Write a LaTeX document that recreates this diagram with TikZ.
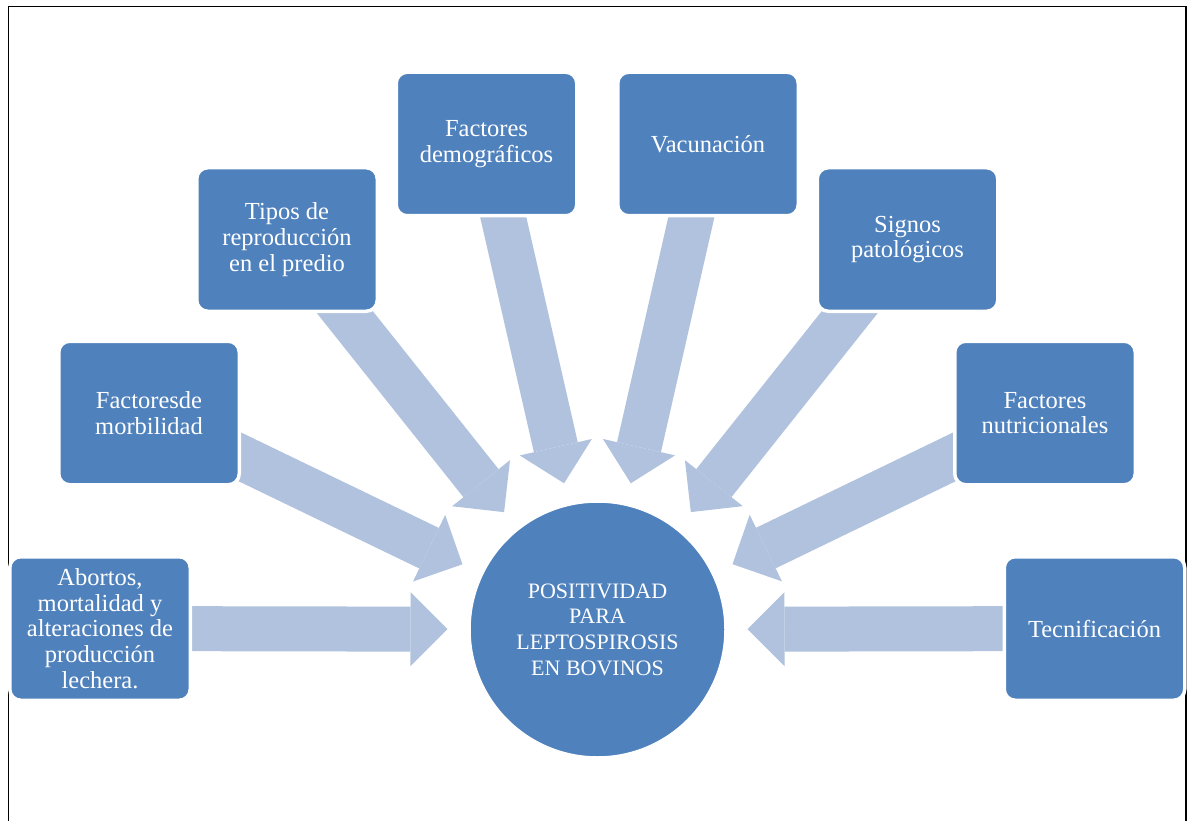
\documentclass[tikz,border=0pt]{standalone}
\usepackage{fontspec}
\setmainfont{Liberation Serif}
\usetikzlibrary{arrows.meta,backgrounds}
\definecolor{boxblue}{RGB}{79,129,189}
\definecolor{arrowblue}{RGB}{176,194,222}

\begin{document}
\begin{tikzpicture}[x=1pt, y=-1pt,
    every node/.style={align=center, text=white, font=\fontsize{24.5}{25.7}\selectfont},
    factor/.style={draw=white, line width=3.5pt, fill=boxblue, rounded corners=11pt, minimum width=180.5pt, minimum height=143.5pt, inner sep=0pt},
    bigarrow/.style={draw=arrowblue, line width=45pt, shorten >=22.5pt, -{Triangle[width=74pt, length=37pt, line width'=0pt]}}]
    \useasboundingbox (0,0) rectangle (1189,821);
    \draw[line width=1.6pt] (8.5,821) -- (8.5,6.5) -- (1186,6.5) -- (1186,821);

    \node[circle, draw=white, line width=1.5pt, fill=boxblue, minimum size=255pt, inner sep=0pt, outer sep=0pt, font=\fontsize{22}{25.7}\selectfont] (pos) at (597.5,629.5) {POSITIVIDAD\\PARA\\LEPTOSPIROSIS\\EN BOVINOS};

    \node[factor] (abortos) at (100,628.5) {Abortos,\\mortalidad y\\alteraciones de\\producción\\lechera.};
    \node[factor] (morbilidad) at (149,413) {Factoresde\\morbilidad};
    \node[factor] (tipos) at (287,239.5) {Tipos de\\reproducción\\en el predio};
    \node[factor] (demograficos) at (486.5,144) {Factores\\demográficos};
    \node[factor] (vacunacion) at (708,144) {Vacunación};
    \node[factor] (signos) at (907.5,239.5) {Signos\\patológicos};
    \node[factor] (nutricionales) at (1045,413) {Factores\\nutricionales};
    \node[factor] (tecnificacion) at (1094.5,628.5) {Tecnificación};

    \begin{scope}[on background layer]
        \draw[bigarrow] (abortos.center) -- (pos);
        \draw[bigarrow] (morbilidad.center) -- (pos);
        \draw[bigarrow] (tipos.center) -- (pos);
        \draw[bigarrow] (demograficos.center) -- (pos);
        \draw[bigarrow] (vacunacion.center) -- (pos);
        \draw[bigarrow] (signos.center) -- (pos);
        \draw[bigarrow] (nutricionales.center) -- (pos);
        \draw[bigarrow] (tecnificacion.center) -- (pos);
    \end{scope}
\end{tikzpicture}
\end{document}
